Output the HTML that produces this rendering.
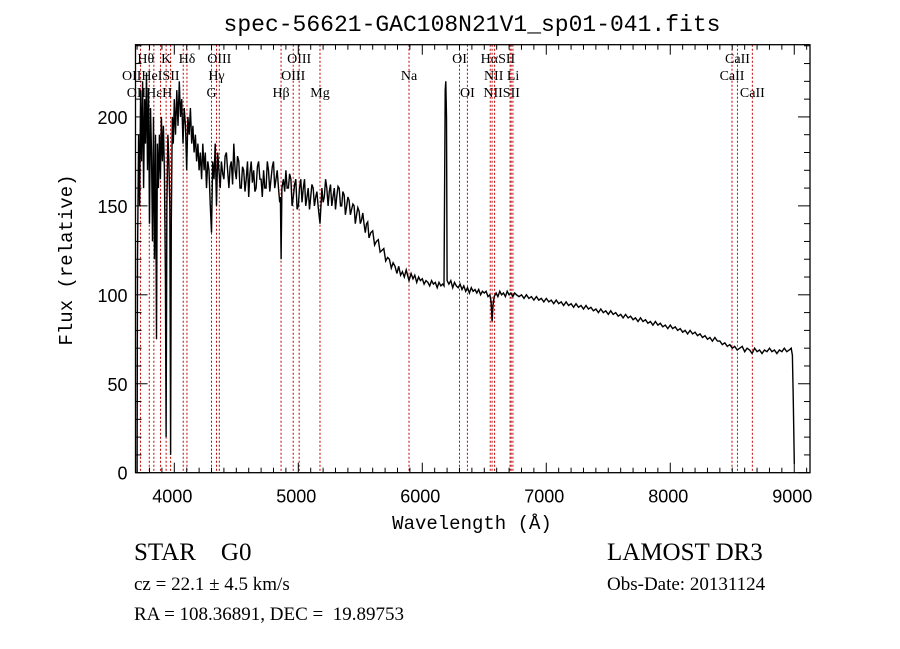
<!DOCTYPE html>
<html><head><meta charset="utf-8"><style>
html,body{margin:0;padding:0;background:#fff;}
svg{display:block;}
</style></head><body>
<svg id="chart" width="900" height="649" viewBox="0 0 900 649" xmlns="http://www.w3.org/2000/svg">
<rect width="900" height="649" fill="#fff"/>
<text x="472" y="31" text-anchor="middle" font-family="Liberation Mono, monospace" font-size="23" fill="#000">spec-56621-GAC108N21V1_sp01-041.fits</text>
<g id="lines"></g>
<g id="labels" font-family="Liberation Serif, serif" font-size="14" fill="#000"></g>
<polyline id="spec" fill="none" stroke="#000" stroke-width="1.4"/>
<rect x="135.5" y="44.7" width="674.5" height="428" fill="none" stroke="#000" stroke-width="1.3"/>
<g id="axes" stroke="#000" stroke-width="1"></g>
<g id="ticklabels" font-family="Liberation Sans, sans-serif" font-size="18" fill="#000"></g>
<text x="472" y="529" text-anchor="middle" font-family="Liberation Mono, monospace" font-size="19">Wavelength (Å)</text>
<text transform="translate(72,260) rotate(-90)" text-anchor="middle" font-family="Liberation Mono, monospace" font-size="19">Flux (relative)</text>
<text x="134" y="560" font-family="Liberation Serif, serif" font-size="25" xml:space="preserve">STAR    G0</text>
<text x="607" y="560" font-family="Liberation Serif, serif" font-size="25">LAMOST DR3</text>
<text x="134" y="590" font-family="Liberation Serif, serif" font-size="19">cz = 22.1 ± 4.5 km/s</text>
<text x="607" y="590" font-family="Liberation Serif, serif" font-size="19">Obs-Date: 20131124</text>
<text x="134" y="620" font-family="Liberation Serif, serif" font-size="19" xml:space="preserve">RA = 108.36891, DEC =  19.89753</text>
</svg>
<script>
// [wavelength, flux] samples
const spectrum=[[3700,0],[3703,120],[3712,190],[3720,150],[3728,215],[3736,175],[3744,220],[3752,160],[3760,210],[3768,185],[3776,225],[3784,170],[3792,215],[3800,140],[3808,205],[3816,180],[3824,130],[3832,200],[3840,120],[3848,190],[3856,75],[3864,185],[3872,160],[3880,190],[3888,165],[3896,200],[3904,175],[3912,195],[3920,170],[3928,110],[3934,20],[3940,150],[3948,190],[3956,175],[3964,150],[3970,10],[3976,140],[3984,200],[3992,185],[4000,210],[4010,190],[4020,215],[4030,195],[4040,220],[4050,200],[4060,210],[4070,185],[4080,205],[4090,195],[4100,170],[4110,200],[4120,190],[4130,205],[4140,185],[4150,195],[4160,180],[4170,190],[4180,175],[4190,185],[4200,170],[4210,180],[4220,165],[4230,185],[4240,170],[4250,180],[4260,160],[4270,175],[4280,170],[4290,150],[4300,135],[4310,175],[4320,165],[4330,185],[4340,150],[4350,180],[4360,170],[4370,160],[4380,175],[4390,168],[4400,165],[4410,178],[4420,180],[4430,170],[4440,160],[4450,172],[4460,175],[4470,162],[4480,185],[4490,170],[4500,165],[4510,178],[4520,175],[4530,160],[4540,160],[4550,172],[4560,170],[4570,158],[4580,165],[4590,175],[4600,155],[4610,168],[4620,175],[4630,163],[4640,170],[4650,158],[4660,160],[4670,172],[4680,175],[4690,165],[4700,165],[4710,155],[4720,170],[4730,160],[4740,160],[4750,175],[4760,170],[4770,158],[4780,165],[4790,172],[4800,175],[4810,160],[4820,165],[4830,170],[4840,160],[4850,152],[4856,155],[4861,120],[4868,160],[4880,165],[4890,158],[4900,170],[4910,160],[4920,160],[4930,168],[4940,165],[4950,150],[4960,155],[4970,162],[4980,165],[4990,148],[5000,150],[5010,160],[5020,165],[5030,152],[5040,160],[5050,165],[5060,150],[5070,155],[5080,160],[5090,148],[5100,155],[5110,162],[5120,160],[5130,150],[5140,155],[5150,158],[5160,150],[5175,140],[5190,160],[5200,152],[5210,155],[5220,165],[5230,160],[5240,150],[5250,158],[5260,162],[5270,150],[5280,155],[5290,160],[5300,148],[5310,155],[5320,161],[5330,160],[5340,150],[5350,150],[5360,158],[5370,156],[5380,145],[5390,150],[5400,155],[5410,153],[5420,145],[5430,148],[5440,151],[5450,150],[5460,140],[5470,145],[5480,149],[5490,147],[5500,140],[5510,142],[5520,146],[5530,140],[5540,135],[5550,140],[5560,141],[5570,132],[5585,135],[5600,136],[5615,128],[5630,130],[5645,131],[5660,124],[5675,125],[5690,126],[5705,119],[5720,121],[5735,120],[5750,115],[5765,118],[5780,116],[5795,112],[5810,116],[5825,111],[5840,113],[5855,110],[5870,114],[5893,108],[5910,112],[5925,109],[5940,111],[5955,107],[5970,110],[5985,108],[6000,109],[6015,106],[6030,108],[6045,107],[6060,105],[6075,108],[6090,106],[6105,107],[6120,104],[6135,107],[6150,105],[6165,106],[6175,105],[6180,160],[6185,215],[6190,220],[6195,200],[6200,108],[6215,106],[6230,108],[6245,104],[6260,107],[6275,105],[6290,104],[6305,106],[6320,103],[6335,105],[6350,102],[6365,104],[6380,101],[6395,104],[6410,102],[6425,103],[6440,101],[6455,103],[6470,100],[6485,102],[6500,101],[6515,102],[6530,99],[6545,100],[6555,96],[6563,85],[6570,94],[6580,99],[6595,101],[6610,99],[6625,102],[6640,100],[6655,101],[6670,99],[6685,102],[6700,100],[6715,101],[6730,99],[6745,101],[6760,100],[6780,99],[6800,100],[6820,98],[6840,100],[6860,98],[6880,99],[6900,97],[6920,99],[6940,97],[6960,98],[6980,96],[7000,98],[7020,96],[7040,97],[7060,95],[7080,97],[7100,95],[7120,96],[7140,94],[7160,96],[7180,94],[7200,95],[7220,93],[7240,95],[7260,93],[7280,94],[7300,92],[7320,94],[7340,92],[7360,93],[7380,91],[7400,92],[7420,90],[7440,92],[7460,90],[7480,91],[7500,89],[7520,91],[7540,89],[7560,90],[7580,88],[7600,89],[7620,87],[7640,89],[7660,87],[7680,88],[7700,86],[7720,87],[7740,85],[7760,87],[7780,85],[7800,86],[7820,84],[7840,85],[7860,83],[7880,85],[7900,83],[7920,84],[7940,82],[7960,83],[7980,81],[8000,83],[8020,81],[8040,82],[8060,80],[8080,81],[8100,79],[8120,80],[8140,78],[8160,80],[8180,78],[8200,79],[8220,77],[8240,78],[8260,76],[8280,77],[8300,75],[8320,76],[8340,74],[8360,76],[8380,74],[8400,74],[8420,72],[8440,73],[8460,71],[8480,72],[8500,70],[8520,71],[8540,69],[8560,70],[8580,71],[8600,68],[8620,70],[8640,69],[8660,67],[8680,70],[8700,68],[8720,69],[8740,67],[8760,69],[8780,68],[8800,70],[8820,68],[8840,69],[8860,67],[8880,69],[8900,68],[8920,70],[8940,68],[8960,69],[8975,70],[8985,66],[8992,40],[9000,5]];
const waves=spectrum.map(p=>p[0]);
const flux=spectrum.map(p=>p[1]);
const lineWaves=[3727,3798,3835,3889,3934,3970,4072,4102,4300,4340,4363,4861,4959,5007,5175,5893,6300,6364,6548,6563,6583,6708,6717,6731,8498,8542,8662];
const labelText=["Hθ","K","Hδ","OIII","OIII","OI","HαSII","CaII","OIIHeISII","Hγ","OIII","Na","NII Li","CaII","OIIHεH","G","Hβ","Mg","OI","NIISII","CaII"];
const labelWave=[3770,3934,4102,4363,5007,6300,6610,8542,3810,4340,4959,5893,6640,8498,3800,4300,4861,5175,6364,6640,8662];
const labelRow=[0,0,0,0,0,0,0,0,1,1,1,1,1,1,2,2,2,2,2,2,2];
const xTicks=[4000,5000,6000,7000,8000,9000];
const yTicks=[0,50,100,150,200];
const X0=3687,X1=9127,Y0=0,Y1=240.6,L=135.5,R=810,T=44.7,B=472.7;
function sx(w){return L+(w-X0)/(X1-X0)*(R-L);}
function sy(f){return B-(f-Y0)/(Y1-Y0)*(B-T);}
const NS="http://www.w3.org/2000/svg";
const lg=document.getElementById('lines');
lineWaves.forEach(w=>{const l=document.createElementNS(NS,'line');


l.setAttribute('x1',sx(w));l.setAttribute('x2',sx(w));l.setAttribute('y1',T);l.setAttribute('y2',B);
l.setAttribute('stroke','#c00000');l.setAttribute('stroke-width','1');l.setAttribute('stroke-dasharray','2,2');lg.appendChild(l);});
const lb=document.getElementById('labels');
labelText.forEach((t,i)=>{const e=document.createElementNS(NS,'text');


e.setAttribute('x',sx(labelWave[i]));e.setAttribute('y',63+labelRow[i]*17);e.setAttribute('text-anchor','middle');e.textContent=t;lb.appendChild(e);});
document.getElementById('spec').setAttribute('points',waves.map((w,i)=>sx(w).toFixed(1)+','+sy(flux[i]).toFixed(1)).join(' '));
const ax=document.getElementById('axes');
function ln(x1,y1,x2,y2){const l=document.createElementNS(NS,'line');


l.setAttribute('x1',x1);l.setAttribute('y1',y1);l.setAttribute('x2',x2);l.setAttribute('y2',y2);ax.appendChild(l);}
for(let w=3700;w<=9100;w+=100){const big=w%1000===0,h=big?10:5;ln(sx(w),B,sx(w),B-h);ln(sx(w),T,sx(w),T+h);}
for(let f=0;f<=240;f+=10){const big=f%50===0,h=big?12:6;ln(L,sy(f),L+h,sy(f));ln(R,sy(f),R-h,sy(f));}
const tl=document.getElementById('ticklabels');
xTicks.forEach(v=>{const e=document.createElementNS(NS,'text');


e.setAttribute('x',sx(v)-2);e.setAttribute('y',B+30);e.setAttribute('text-anchor','middle');e.textContent=v;tl.appendChild(e);});
yTicks.forEach(v=>{const e=document.createElementNS(NS,'text');


e.setAttribute('x',L-8);e.setAttribute('y',sy(v)+7);e.setAttribute('text-anchor','end');e.textContent=v;tl.appendChild(e);});
</script>
</body></html>
